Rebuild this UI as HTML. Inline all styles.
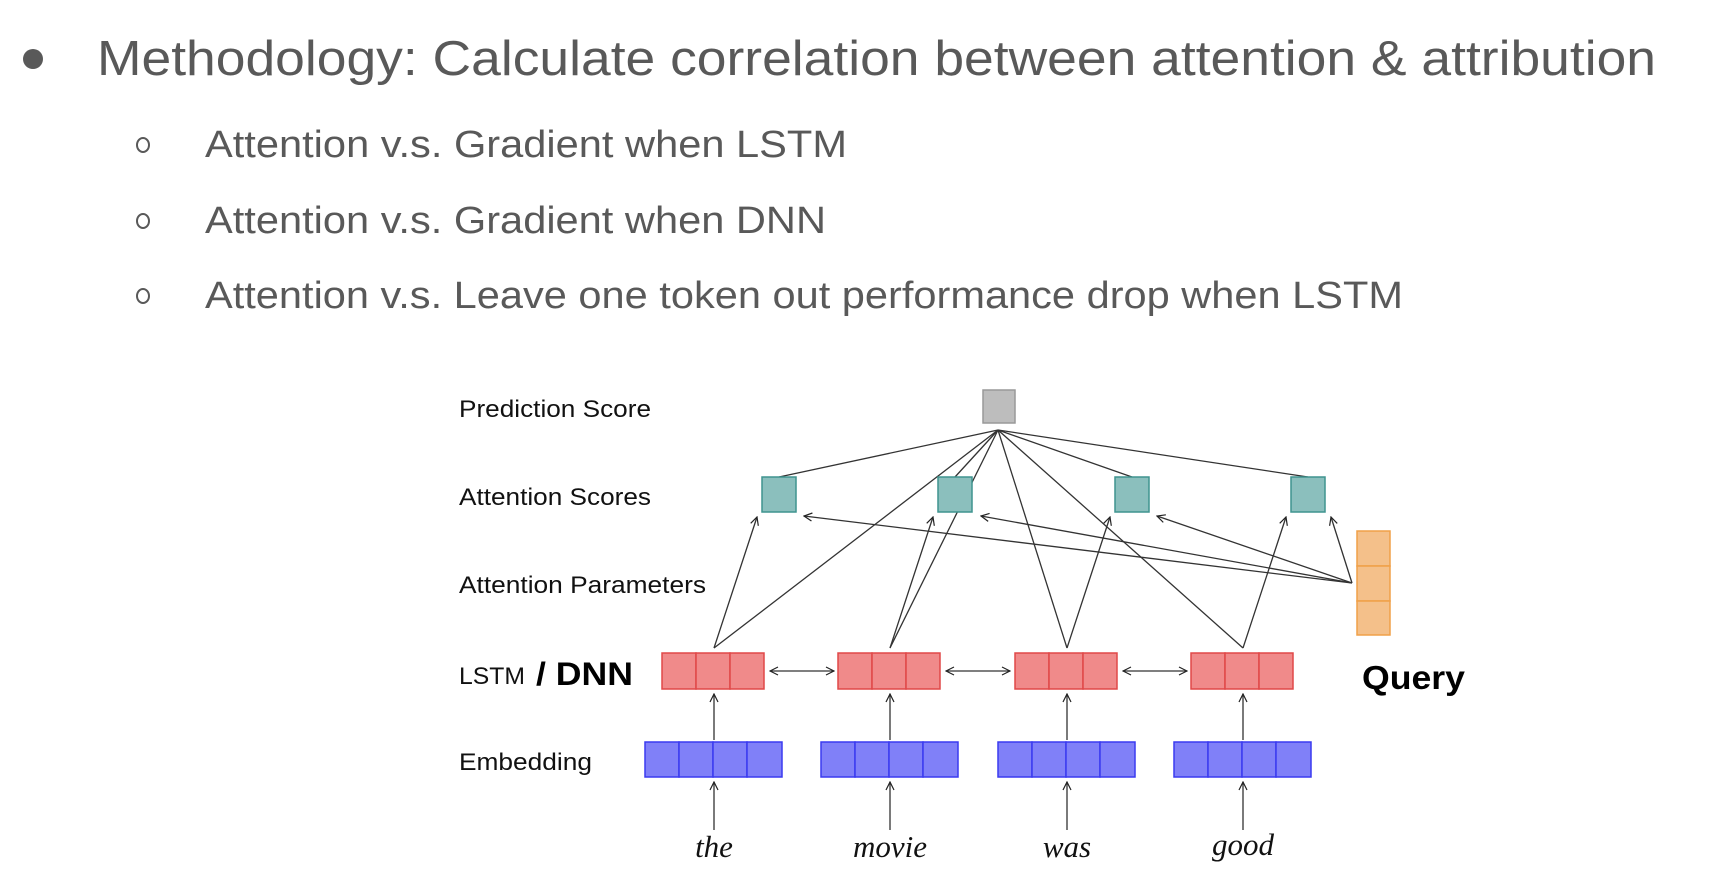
<!DOCTYPE html>
<html><head><meta charset="utf-8"><style>
html,body{margin:0;padding:0;background:#fff;width:1722px;height:874px;overflow:hidden}
svg{display:block}
.t{font-family:"Liberation Sans",Arial,sans-serif;fill:#595959}
.l{font-family:"Liberation Sans",sans-serif;fill:#111;font-size:24px}
</style></head><body>
<svg width="1722" height="874" viewBox="0 0 1722 874" xmlns="http://www.w3.org/2000/svg">
<defs>
<marker id="a" markerWidth="10" markerHeight="10" refX="9" refY="5" orient="auto" markerUnits="userSpaceOnUse">
<path d="M1,1 L9,5 L1,9" fill="none" stroke="#222" stroke-width="1.2"/></marker>
<marker id="b" markerWidth="10" markerHeight="10" refX="1" refY="5" orient="auto" markerUnits="userSpaceOnUse">
<path d="M9,1 L1,5 L9,9" fill="none" stroke="#222" stroke-width="1.2"/></marker>
</defs>
<circle cx="33" cy="59" r="10" fill="#595959"/>
<text class="t" x="97" y="75" font-size="49" textLength="1559" lengthAdjust="spacingAndGlyphs">Methodology: Calculate correlation between attention &amp; attribution</text>
<g fill="none" stroke="#595959" stroke-width="2">
<ellipse cx="143" cy="145" rx="6" ry="7"/><ellipse cx="143" cy="221" rx="6" ry="7"/><ellipse cx="143" cy="296" rx="6" ry="7"/></g>
<text class="t" x="205" y="157" font-size="38" textLength="642" lengthAdjust="spacingAndGlyphs">Attention v.s. Gradient when LSTM</text>
<text class="t" x="205" y="233" font-size="38" textLength="621" lengthAdjust="spacingAndGlyphs">Attention v.s. Gradient when DNN</text>
<text class="t" x="205" y="308" font-size="38" textLength="1198" lengthAdjust="spacingAndGlyphs">Attention v.s. Leave one token out performance drop when LSTM</text>

<text class="l" x="459" y="417" textLength="192" lengthAdjust="spacingAndGlyphs">Prediction Score</text>
<text class="l" x="459" y="505" textLength="192" lengthAdjust="spacingAndGlyphs">Attention Scores</text>
<text class="l" x="459" y="593" textLength="247" lengthAdjust="spacingAndGlyphs">Attention Parameters</text>
<text class="l" x="459" y="684" textLength="66" lengthAdjust="spacingAndGlyphs">LSTM</text>
<text x="536" y="685" font-family="Liberation Sans,sans-serif" font-weight="bold" font-size="32" fill="#000" textLength="97" lengthAdjust="spacingAndGlyphs">/ DNN</text>
<text x="1462" y="0" font-size="1"> </text>
<text class="l" x="459" y="770" textLength="133" lengthAdjust="spacingAndGlyphs">Embedding</text>
<text x="1362" y="689" font-family="Liberation Sans,sans-serif" font-weight="bold" font-size="33" fill="#000" textLength="103" lengthAdjust="spacingAndGlyphs">Query</text>

<g stroke="#333" stroke-width="1.3" fill="none">
<line x1="779" y1="477" x2="998" y2="430"/><line x1="955" y1="477" x2="998" y2="430"/>
<line x1="1132" y1="477" x2="998" y2="430"/><line x1="1308" y1="477" x2="998" y2="430"/>
<line x1="714" y1="648" x2="998" y2="430"/><line x1="890" y1="648" x2="998" y2="430"/>
<line x1="1067" y1="648" x2="998" y2="430"/><line x1="1243" y1="648" x2="998" y2="430"/>
<line x1="714" y1="648" x2="757" y2="517" marker-end="url(#a)"/>
<line x1="890" y1="648" x2="933" y2="517" marker-end="url(#a)"/>
<line x1="1067" y1="648" x2="1110" y2="517" marker-end="url(#a)"/>
<line x1="1243" y1="648" x2="1286" y2="517" marker-end="url(#a)"/>
<line x1="1352" y1="583" x2="804" y2="516" marker-end="url(#a)"/>
<line x1="1352" y1="583" x2="981" y2="516" marker-end="url(#a)"/>
<line x1="1352" y1="583" x2="1157" y2="516" marker-end="url(#a)"/>
<line x1="1352" y1="583" x2="1331" y2="517" marker-end="url(#a)"/>
<line x1="770" y1="671" x2="834" y2="671" marker-start="url(#b)" marker-end="url(#a)"/>
<line x1="946" y1="671" x2="1010" y2="671" marker-start="url(#b)" marker-end="url(#a)"/>
<line x1="1123" y1="671" x2="1187" y2="671" marker-start="url(#b)" marker-end="url(#a)"/>
<g id="v"><line x1="714" y1="740" x2="714" y2="694" marker-end="url(#a)"/>
<line x1="714" y1="830" x2="714" y2="782" marker-end="url(#a)"/></g>
<use href="#v" x="176"/><use href="#v" x="353"/><use href="#v" x="529"/>
</g>

<rect x="983" y="390" width="32" height="33" fill="#bdbdbd" stroke="#999" stroke-width="1.5"/>
<g fill="#8bbfbd" stroke="#3f948f" stroke-width="1.5">
<rect x="762" y="477" width="34" height="35"/><rect x="938" y="477" width="34" height="35"/>
<rect x="1115" y="477" width="34" height="35"/><rect x="1291" y="477" width="34" height="35"/></g>
<g fill="#f4c08a" stroke="#f0a048" stroke-width="1.5">
<rect x="1357" y="531" width="33" height="35"/><rect x="1357" y="566" width="33" height="35"/><rect x="1357" y="601" width="33" height="34"/></g>
<g id="r" fill="#f08a8a" stroke="#e04848" stroke-width="1.5">
<rect x="662" y="653" width="34" height="36"/><rect x="696" y="653" width="34" height="36"/><rect x="730" y="653" width="34" height="36"/></g>
<use href="#r" x="176"/><use href="#r" x="353"/><use href="#r" x="529"/>
<g id="e" fill="#8080f8" stroke="#3a3af0" stroke-width="1.5">
<rect x="645" y="742" width="34" height="35"/><rect x="679" y="742" width="34" height="35"/><rect x="713" y="742" width="34" height="35"/><rect x="747" y="742" width="35" height="35"/></g>
<use href="#e" x="176"/><use href="#e" x="353"/><use href="#e" x="529"/>

<g font-family="Liberation Serif,serif" font-style="italic" font-size="31" fill="#111" text-anchor="middle">
<text x="714" y="857">the</text><text x="890" y="857">movie</text><text x="1067" y="857">was</text><text x="1243" y="855">good</text></g>
</svg>
</body></html>
